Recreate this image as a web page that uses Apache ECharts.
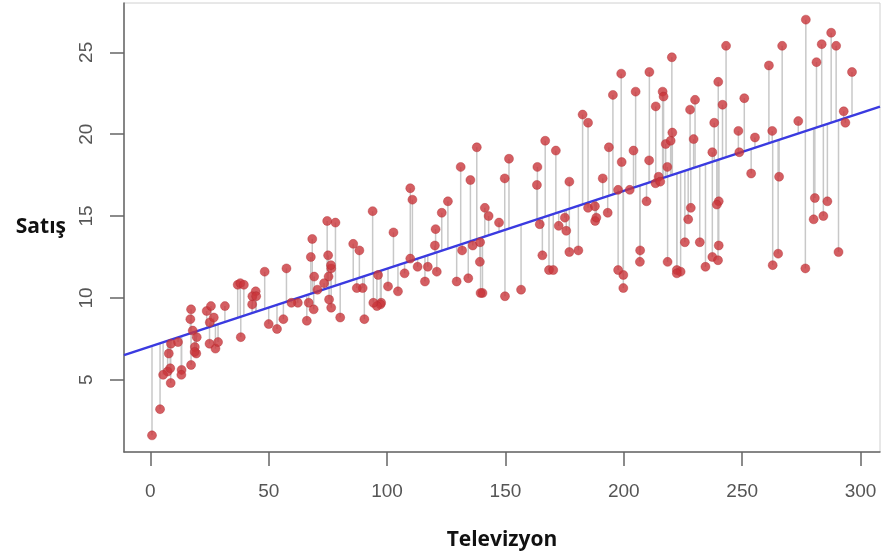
<!DOCTYPE html>
<html>
<head>
<meta charset="utf-8">
<script src="https://cdn.jsdelivr.net/npm/echarts@6/dist/echarts.min.js"></script>
<style>
  html, body { margin: 0; padding: 0; background: #fff; }
  #chart { width: 882px; height: 560px; }
</style>
</head>
<body>
<div id="chart"></div>
<script>
// TV advertising budget vs sales
const tv = [230.1,44.5,17.2,151.5,180.8,8.7,57.5,120.2,8.6,199.8,66.1,214.7,23.8,97.5,204.1,195.4,67.8,281.4,69.2,147.3,
  218.4,237.4,13.2,228.3,62.3,262.9,142.9,240.1,248.8,70.6,292.9,112.9,97.2,265.6,95.7,290.7,266.9,74.7,43.1,228,
  202.5,177,293.6,206.9,25.1,175.1,89.7,239.9,227.2,66.9,199.8,100.4,216.4,182.6,262.7,198.9,7.3,136.2,210.8,210.7,
  53.5,261.3,239.3,102.7,131.1,69,31.5,139.3,237.4,216.8,199.1,109.8,26.8,129.4,213.4,16.9,27.5,120.5,5.4,116,
  76.4,239.8,75.3,68.4,213.5,193.2,76.3,110.7,88.3,109.8,134.3,28.6,217.7,250.9,107.4,163.3,197.6,184.9,289.7,135.2,
  222.4,296.4,280.2,187.9,238.2,137.9,25,90.4,13.1,255.4,225.8,241.7,175.7,209.6,78.2,75.1,139.2,76.4,125.7,19.4,
  141.3,18.8,224,123.1,229.5,87.2,7.8,80.2,220.3,59.6,0.7,265.2,8.4,219.8,36.9,48.3,25.6,273.7,43,184.9,
  73.4,193.7,220.5,104.6,96.2,140.3,240.1,243.2,38,44.7,280.7,121,197.6,171.3,187.8,4.1,93.9,149.8,11.7,131.7,
  172.5,85.7,188.4,163.5,117.2,234.5,17.9,206.8,215.4,284.3,50,164.5,19.6,168.4,222.4,276.9,248.4,170.2,276.7,165.6,
  156.6,218.5,56.2,287.6,253.8,205,139.5,191.1,286,18.7,39.5,75.5,17.2,166.8,149.7,38.2,94.2,177,283.6,232.1];
const sales = [22.1,10.4,9.3,18.5,12.9,7.2,11.8,13.2,4.8,10.6,8.6,17.4,9.2,9.7,19,22.4,12.5,24.4,11.3,14.6,
  18,12.5,5.6,15.5,9.7,12,15,15.9,18.9,10.5,21.4,11.9,9.6,17.4,9.5,12.8,25.4,14.7,10.1,21.5,
  16.6,17.1,20.7,12.9,8.5,14.9,10.6,23.2,14.8,9.7,11.4,10.7,22.6,21.2,20.2,23.7,5.5,13.2,23.8,18.4,
  8.1,24.2,15.7,14,18,9.3,9.5,13.4,18.9,22.3,18.3,12.4,8.8,11,17,8.7,6.9,14.2,5.3,11,
  11.8,12.3,11.3,13.6,21.7,15.2,12,16,12.9,16.7,11.2,7.3,19.4,22.2,11.5,16.9,11.7,15.5,25.4,17.2,
  11.7,23.8,14.8,14.7,20.7,19.2,7.2,8.7,5.3,19.8,13.4,21.8,14.1,15.9,14.6,12.6,12.2,9.4,15.9,6.6,
  15.5,7,11.6,15.2,19.7,10.6,6.6,8.8,24.7,9.7,1.6,12.7,5.7,19.6,10.8,11.6,9.5,20.8,9.6,20.7,
  10.9,19.2,20.1,10.4,11.4,10.3,13.2,25.4,10.9,10.1,16.1,11.6,16.6,19,15.6,3.2,15.3,10.1,7.3,12.9,
  14.4,13.3,14.9,18,11.9,11.9,8,12.2,17.1,15,8.4,14.5,7.6,11.7,11.5,27,20.2,11.7,11.8,12.6,
  10.5,12.2,8.7,26.2,17.6,22.6,10.3,17.3,15.9,6.7,10.8,9.9,5.9,19.6,17.3,7.6,9.7,12.8,25.5,13.4];
const xTicks = [0, 50, 100, 150, 200, 250, 300];
const yTicks = [5, 10, 15, 20, 25];

// least squares fit
const n = tv.length;
const mx = tv.reduce((a, b) => a + b, 0) / n;
const my = sales.reduce((a, b) => a + b, 0) / n;
let sxy = 0, sxx = 0;
for (let i = 0; i < n; i++) { sxy += (tv[i] - mx) * (sales[i] - my); sxx += (tv[i] - mx) ** 2; }
const slope = sxy / sxx;
const intercept = my - slope * mx;
const fit = (x) => intercept + slope * x;

// R style 4% padding
const xMin = 0.7 - 0.04 * (296.4 - 0.7), xMax = 296.4 + 0.04 * (296.4 - 0.7);
const yMin = 1.6 - 0.04 * (27 - 1.6), yMax = 27 + 0.04 * (27 - 1.6);

const points = tv.map((x, i) => [x, sales[i]]);
const resid = tv.map((x, i) => [x, sales[i], fit(x)]);

const chart = echarts.init(document.getElementById("chart"), null, { renderer: "canvas" });
const axisGray = "#666";
const labelStyle = { color: "#555", fontSize: 19, fontFamily: "Liberation Sans, Arial, sans-serif" };

chart.setOption({
  animation: false,
  grid: { left: 124, right: 2, top: 3, bottom: 108, show: true, borderColor: "#d0d0d0", borderWidth: 1 },
  xAxis: {
    type: "value",
    min: xMin, max: xMax,
    name: "Televizyon",
    nameLocation: "middle",
    nameGap: 78,
    nameTextStyle: { color: "#111", fontSize: 21, fontWeight: "bold", fontFamily: "Open Sans, sans-serif" },
    axisLine: { show: true, onZero: false, lineStyle: { color: axisGray, width: 1.5 } },
    axisTick: { show: true, length: 14, inside: false, customValues: xTicks, lineStyle: { color: axisGray, width: 1.5 } },
    axisLabel: { ...labelStyle, margin: 30, customValues: xTicks },
    splitLine: { show: false }
  },
  yAxis: {
    type: "value",
    min: yMin, max: yMax,
    name: "Satış",
    nameLocation: "middle",
    nameRotate: 0,
    nameGap: 58,
    nameTextStyle: { color: "#111", fontSize: 21, fontWeight: "bold", fontFamily: "Open Sans, sans-serif", padding: [0, 0, 10, 0] },
    axisLine: { show: true, onZero: false, lineStyle: { color: axisGray, width: 1.5 } },
    axisTick: { show: true, length: 14, customValues: yTicks, lineStyle: { color: axisGray, width: 1.5 } },
    axisLabel: { ...labelStyle, rotate: 90, margin: 28, customValues: yTicks },
    splitLine: { show: false }
  },
  series: [
    {
      type: "custom",
      name: "residuals",
      data: resid,
      renderItem: (params, api) => {
        const p1 = api.coord([api.value(0), api.value(1)]);
        const p2 = api.coord([api.value(0), api.value(2)]);
        return {
          type: "line",
          shape: { x1: p1[0], y1: p1[1], x2: p2[0], y2: p2[1] },
          style: { stroke: "#c8c8c8", lineWidth: 1.5 }
        };
      },
      z: 1
    },
    {
      type: "line",
      name: "fit",
      data: [[xMin, fit(xMin)], [xMax, fit(xMax)]],
      showSymbol: false,
      lineStyle: { color: "#3a3ae0", width: 2.5 },
      z: 2
    },
    {
      type: "scatter",
      name: "points",
      data: points,
      symbolSize: 9,
      itemStyle: { color: "#c9363b", borderColor: "#b02a30", borderWidth: 0.5 },
      z: 3
    }
  ]
});
</script>
</body>
</html>
